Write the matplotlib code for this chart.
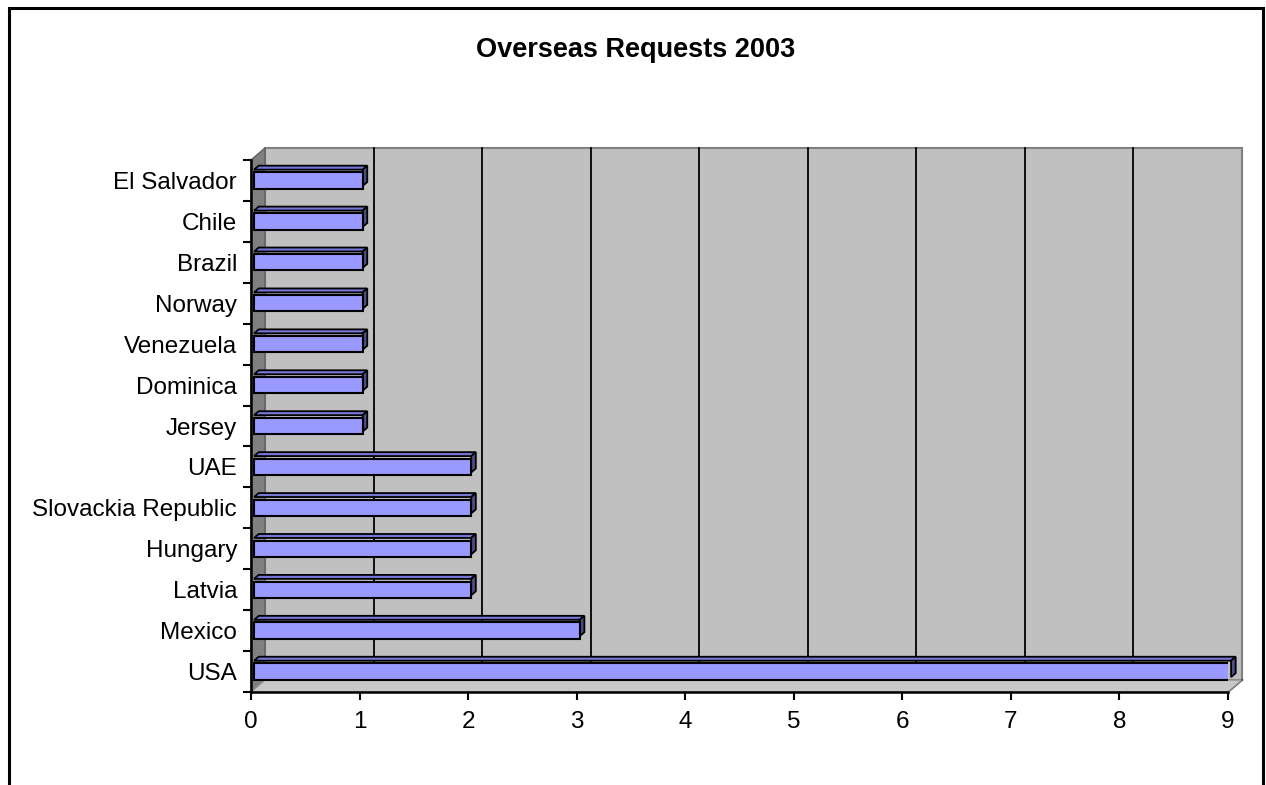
import matplotlib
matplotlib.use("Agg")
import matplotlib.pyplot as plt
from matplotlib.patches import Polygon, Rectangle

plt.rcParams['font.family'] = ['Liberation Sans', 'DejaVu Sans']

countries = ['USA', 'Mexico', 'Latvia', 'Hungary', 'Slovackia Republic', 'UAE',
             'Jersey', 'Dominica', 'Venezuela', 'Norway', 'Brazil', 'Chile', 'El Salvador']
requests = [9, 3, 2, 2, 2, 2, 1, 1, 1, 1, 1, 1, 1]
xticks = list(range(0, 10))

W, H = 1266, 785
fig = plt.figure(figsize=(W / 100, H / 100), dpi=100)

# front plane of the 3d box
x0, x1 = 251, 1228
y_bot, y_top = 692, 160
ax = fig.add_axes([x0 / W, 1 - y_bot / H, (x1 - x0) / W, (y_bot - y_top) / H])
n = len(countries)
ax.set_xlim(0, 9)
ax.set_ylim(-0.5, n - 0.5)

# depth of the box in data units (14 px right, 12 px up)
px_x = 9 / (x1 - x0)
px_y = n / (y_bot - y_top)
DX, DY = 14 * px_x, 12 * px_y
lo, hi = -0.5, n - 0.5

wall_col = '#c0c0c0'
side_col = '#808080'
kw = dict(clip_on=False)

# back wall
ax.add_patch(Polygon([(DX, lo + DY), (9 + DX, lo + DY), (9 + DX, hi + DY), (DX, hi + DY)],
                     closed=True, facecolor=wall_col, edgecolor='#808080', lw=1.5, zorder=1, **kw))
# gridlines on the wall and floor
for k in xticks[1:-1]:
    ax.plot([k + DX, k + DX], [lo + DY, hi + DY], color='black', lw=1.3, zorder=2, **kw)
for k in xticks[1:]:
    ax.plot([k, k + DX], [lo, lo + DY], color='black', lw=1.3, zorder=2, **kw)
# left side wall
ax.add_patch(Polygon([(0, lo), (DX, lo + DY), (DX, hi + DY), (0, hi)],
                     closed=True, facecolor=side_col, edgecolor='#606060', lw=1.0, zorder=2, **kw))
# floor
ax.add_patch(Polygon([(0, lo), (9, lo), (9 + DX, lo + DY), (DX, lo + DY)],
                     closed=True, facecolor='#c8c8c8', edgecolor='#909090', lw=1.0, zorder=2, **kw))

# bars: front face, top face and end face
f1, f2 = 0.22, 0.55
hh = 0.2
front_col, top_col, end_col = '#9999ff', '#7676d6', '#4d4d88'
ys = list(range(n))
ax.barh(ys, requests, height=2 * hh, left=f1 * DX, color=front_col,
        edgecolor='black', lw=1.5, zorder=5)
for i, v in enumerate(requests):
    yb, yt = i - hh, i + hh
    top = [(f1 * DX, yt + f1 * DY), (v + f1 * DX, yt + f1 * DY),
           (v + f2 * DX, yt + f2 * DY), (f2 * DX, yt + f2 * DY)]
    end = [(v + f1 * DX, yb + f1 * DY), (v + f2 * DX, yb + f2 * DY),
           (v + f2 * DX, yt + f2 * DY), (v + f1 * DX, yt + f1 * DY)]
    ax.add_patch(Polygon(top, closed=True, facecolor=top_col,
                         edgecolor='black', lw=1.3, zorder=4, **kw))
    ax.add_patch(Polygon(end, closed=True, facecolor=end_col,
                         edgecolor='black', lw=1.3, zorder=4, **kw))

ax.set_facecolor('none')
for s in ['top', 'right']:
    ax.spines[s].set_visible(False)
for s in ['left', 'bottom']:
    ax.spines[s].set_linewidth(1.8)
    ax.spines[s].set_zorder(6)

ax.set_xticks(xticks)
ax.set_xticklabels([str(t) for t in xticks], fontsize=17.5)
ax.tick_params(axis='x', length=6, width=1.5, pad=8)

# category boundaries get the tick marks, centers get the names
ax.set_yticks([i - 0.5 for i in range(n + 1)])
ax.set_yticklabels([])
ax.set_yticks(ys, minor=True)
ax.set_yticklabels(countries, minor=True, fontsize=17.5)
ax.tick_params(axis='y', which='major', length=6, width=1.5)
ax.tick_params(axis='y', which='minor', length=0, pad=10)

fig.text(636 / W, 1 - 50 / H, 'Overseas Requests 2003', ha='center', va='center',
         fontsize=19.5, fontweight='bold')

# chart area frame
fig.add_artist(Rectangle((9 / W, -0.05), (1263 - 9) / W, 1.05 - 8 / H,
                         transform=fig.transFigure, fill=False, edgecolor='black', lw=2.2))

fig.savefig('out.png', dpi=100)
